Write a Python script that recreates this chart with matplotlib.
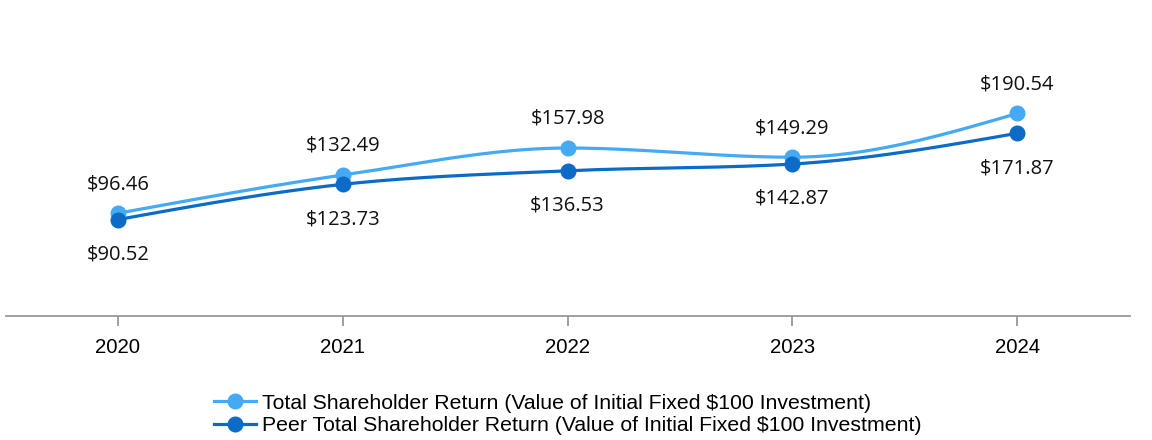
import matplotlib
matplotlib.use("Agg")
import matplotlib.pyplot as plt
import numpy as np

years = ['2020', '2021', '2022', '2023', '2024']
tsr = [96.46, 132.49, 157.98, 149.29, 190.54]
peer_tsr = [90.52, 123.73, 136.53, 142.87, 171.87]
series_names = ['Total Shareholder Return (Value of Initial Fixed $100 Investment)',
                'Peer Total Shareholder Return (Value of Initial Fixed $100 Investment)']

light = '#45a9f4'
dark = '#0b6bc7'


def monotone_path(xs, ys, n=40):
    # monotone cubic smoothing between the points (like d3 curveMonotoneX)
    xs = np.asarray(xs, float)
    ys = np.asarray(ys, float)
    h = np.diff(xs)
    s = np.diff(ys) / h
    m = np.zeros(len(xs))
    for i in range(1, len(xs) - 1):
        p = (s[i - 1] * h[i] + s[i] * h[i - 1]) / (h[i - 1] + h[i])
        m[i] = (np.sign(s[i - 1]) + np.sign(s[i])) * min(abs(s[i - 1]), abs(s[i]), 0.5 * abs(p))
    m[0] = (3 * s[0] - m[1]) / 2
    m[-1] = (3 * s[-1] - m[-2]) / 2
    px, py = [], []
    for i in range(len(xs) - 1):
        t = np.linspace(0, 1, n)
        h00 = 2 * t**3 - 3 * t**2 + 1
        h10 = t**3 - 2 * t**2 + t
        h01 = -2 * t**3 + 3 * t**2
        h11 = t**3 - t**2
        px.extend(xs[i] + t * h[i])
        py.extend(h00 * ys[i] + h10 * h[i] * m[i] + h01 * ys[i + 1] + h11 * h[i] * m[i + 1])
    return np.array(px), np.array(py)


fig = plt.figure(figsize=(11.52, 4.4), dpi=100)
ax = fig.add_axes([5.6 / 1152, 124.5 / 440, 1124 / 1152, 315.5 / 440])

x = np.arange(len(years))
for vals, col, name in [(tsr, light, series_names[0]), (peer_tsr, dark, series_names[1])]:
    cx, cy = monotone_path(x, vals)
    ax.plot(cx, cy, color=col, lw=2.3, solid_capstyle='round', zorder=2)
    ax.plot(x, vals, 'o', color=col, ms=10.5, zorder=3)
    ax.plot([], [], '-o', color=col, lw=2.3, ms=10.5, label=name)

for i in range(len(years)):
    ax.annotate('$%.2f' % tsr[i], (x[i], tsr[i]), xytext=(0, 21), textcoords='offset points',
                ha='center', va='center', fontsize=14.5, family='Open Sans', color='#111111')
    ax.annotate('$%.2f' % peer_tsr[i], (x[i], peer_tsr[i]), xytext=(0, -25), textcoords='offset points',
                ha='center', va='center', fontsize=14.5, family='Open Sans', color='#111111')

ax.set_xlim(-0.5, 4.5)
ax.set_ylim(0, 297.6)
ax.set_xticks(x)
ax.set_xticklabels(years, family='Liberation Sans', fontsize=14.7)
ax.set_yticks([])
for side in ['top', 'left', 'right']:
    ax.spines[side].set_visible(False)
ax.spines['bottom'].set_color('#999999')
ax.spines['bottom'].set_linewidth(1.3)
ax.tick_params(axis='x', length=7, width=1.3, color='#999999', pad=9)

leg = fig.legend(loc='center', bbox_to_anchor=(567.6 / 1152, 1 - 414.5 / 440), frameon=False,
                 prop={'family': 'Liberation Sans', 'size': 15.3}, handlelength=2.0,
                 handletextpad=0.25, labelspacing=0.15, borderpad=0)

fig.savefig('out.png', dpi=100)
